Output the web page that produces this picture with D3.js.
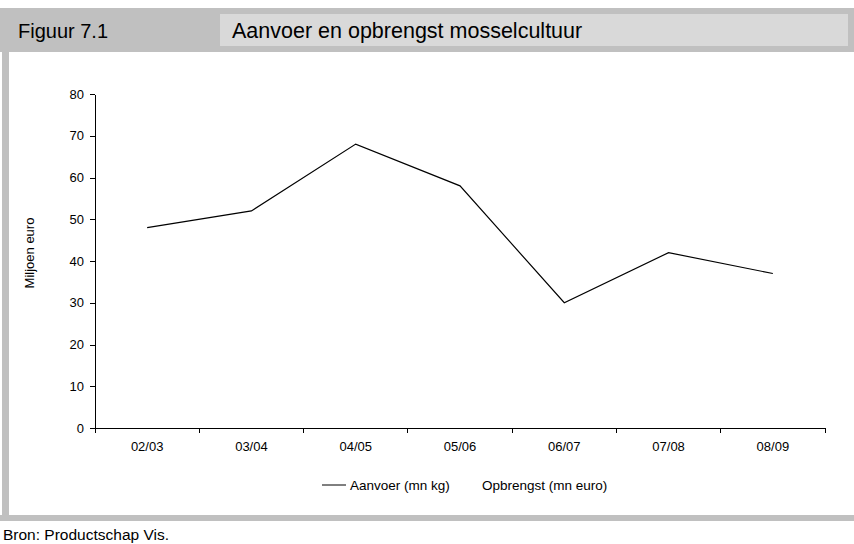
<!DOCTYPE html>
<html lang="nl">
  <head>
    <meta charset="UTF-8" />
    <title>Aanvoer en opbrengst mosselcultuur</title>
    <script src="https://d3js.org/d3.v7.min.js"></script>
    <style>
      body { margin: 0; background: #fff; }
      text { font-family: Arial, 'Liberation Sans', sans-serif; fill: #000; }
      .axis path, .axis line { stroke: #000; shape-rendering: crispEdges; }
    </style>
  </head>
  <body>
    <div id="chart"></div>
    <script>
      // data
      const seasons = ['02/03', '03/04', '04/05', '05/06', '06/07', '07/08', '08/09'];
      const aanvoer = [48, 52, 68, 58, 30, 42, 37];
      const yTicks = [0, 10, 20, 30, 40, 50, 60, 70, 80];
      const legendLabels = ['Aanvoer (mn kg)', 'Opbrengst (mn euro)'];

      const W = 854, H = 544;
      const svg = d3.select('#chart').append('svg')
        .attr('width', W).attr('height', H);

      // frame: header band, left strip, bottom band
      svg.append('rect').attr('x', 0).attr('y', 8).attr('width', W).attr('height', 44).attr('fill', '#c0c0c0');
      svg.append('rect').attr('x', 220).attr('y', 14).attr('width', 628).attr('height', 32).attr('fill', '#d9d9d9');
      svg.append('rect').attr('x', 2).attr('y', 52).attr('width', 7).attr('height', 465).attr('fill', '#c0c0c0');
      svg.append('rect').attr('x', 0).attr('y', 515).attr('width', W).attr('height', 6).attr('fill', '#c0c0c0');

      svg.append('text').attr('x', 18).attr('y', 38).style('font-size', '20px').text('Figuur 7.1');
      svg.append('text').attr('x', 232).attr('y', 38).style('font-size', '21.5px')
        .text('Aanvoer en opbrengst mosselcultuur');
      svg.append('text').attr('x', 3).attr('y', 540).style('font-size', '15.5px').text('Bron: Productschap Vis.');

      const margin = { left: 95, top: 94, right: 29, bottom: 116 };
      const width = W - margin.left - margin.right;
      const height = H - margin.top - margin.bottom;
      const g = svg.append('g').attr('transform', `translate(${margin.left},${margin.top})`);

      const x = d3.scaleBand().domain(seasons).range([0, width]).padding(0);
      const y = d3.scaleLinear().domain([0, 80]).range([height, 0]);

      g.append('g').attr('class', 'axis')
        .call(d3.axisLeft(y).tickValues(yTicks).tickSize(5).tickPadding(6).tickSizeOuter(0))
        .call(a => a.selectAll('text').style('font-size', '13px'));

      const xa = g.append('g').attr('class', 'axis')
        .attr('transform', `translate(0,${height})`)
        .call(d3.axisBottom(x).tickSize(0).tickPadding(14).tickSizeOuter(0))
        .call(a => a.selectAll('text').style('font-size', '13px'));
      // ticks sit between categories
      xa.selectAll('.sep')
        .data(d3.range(seasons.length + 1))
        .enter().append('line')
        .attr('x1', i => i * x.step()).attr('x2', i => i * x.step())
        .attr('y1', 0).attr('y2', 5)
        .attr('stroke', '#000');

      g.append('text')
        .attr('transform', `translate(-61,${height / 2 - 8}) rotate(-90)`)
        .attr('text-anchor', 'middle')
        .style('font-size', '13px')
        .text('Miljoen euro');

      const line = d3.line()
        .x((d, i) => x(seasons[i]) + x.bandwidth() / 2)
        .y(d => y(d));
      g.append('path').datum(aanvoer)
        .attr('fill', 'none').attr('stroke', '#000').attr('stroke-width', 1.2)
        .attr('d', line);

      // legend
      const lg = svg.append('g').attr('transform', 'translate(322,485)');
      lg.append('line').attr('x1', 0).attr('x2', 24).attr('y1', 0).attr('y2', 0).attr('stroke', '#000');
      lg.append('text').attr('x', 28).attr('y', 5).style('font-size', '13.5px').text(legendLabels[0]);
      lg.append('line').attr('x1', 136).attr('x2', 158).attr('y1', 0).attr('y2', 0).attr('stroke', '#fff');
      lg.append('text').attr('x', 160).attr('y', 5).style('font-size', '13.5px').text(legendLabels[1]);
    </script>
  </body>
</html>
